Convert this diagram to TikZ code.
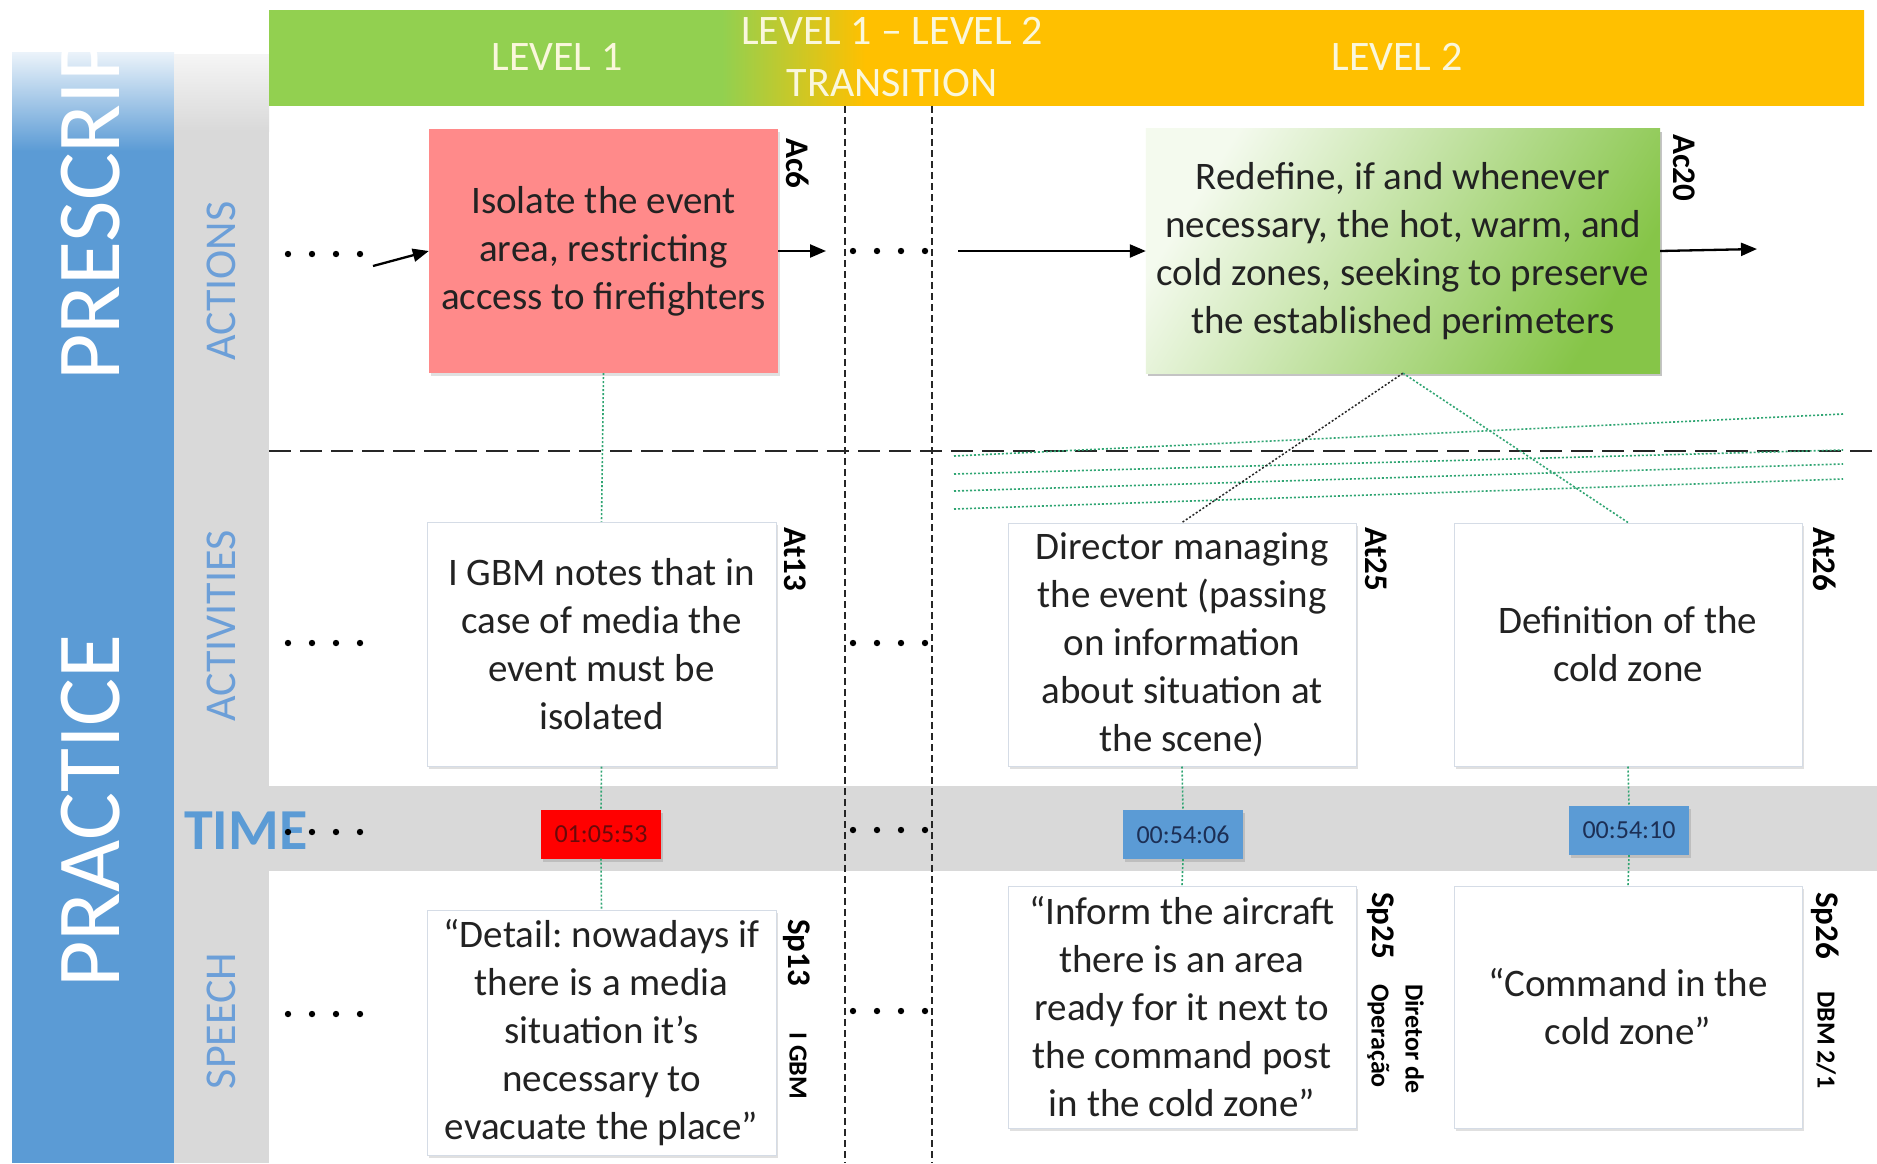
\documentclass[tikz,border=0pt]{standalone}
\usepackage{fontspec}
\setmainfont{Carlito}
\usetikzlibrary{arrows.meta,shadows,calc}
\frenchspacing

\definecolor{presblue}{HTML}{5B9BD5}
\definecolor{colgrey}{HTML}{D9D9D9}
\definecolor{lvgreen}{HTML}{92D050}
\definecolor{lvgold}{HTML}{FFC000}
\definecolor{acred}{HTML}{FF8A8A}
\definecolor{timered}{HTML}{FF0000}
\definecolor{timeblue}{HTML}{5B9BD5}
\definecolor{linkgreen}{HTML}{2FA572}
\definecolor{rowlabel}{HTML}{6C9FD8}
\definecolor{boxline}{HTML}{D5DCE6}
\definecolor{headtext}{HTML}{FAF7DC}
\definecolor{txt}{HTML}{222222}
\definecolor{acgreenlight}{HTML}{F4FAEE}
\definecolor{acgreendark}{HTML}{86C548}
\definecolor{redtext}{HTML}{6A0A0A}
\definecolor{bluetext}{HTML}{1C2F55}

% green to gold header band (the middle 25bp..75bp span the band's width)
\pgfdeclarehorizontalshading{levelbar}{100bp}{color(0bp)=(lvgreen); color(39.2bp)=(lvgreen);
  color(43.7bp)=(lvgold); color(100bp)=(lvgold)}

\newcommand{\fsz}[2]{\fontsize{#1}{#2}\selectfont}

\tikzset{
  boxshadow/.style={drop shadow={shadow xshift=2pt, shadow yshift=-3pt, fill=black, opacity=0.12}},
  cardbox/.style={minimum width=349pt, minimum height=244pt, inner sep=0pt, align=center,
                  text=txt, font=\fsz{39}{48}, boxshadow},
  whitebox/.style={cardbox, fill=white, draw=boxline, line width=1pt},
  timebox/.style={minimum width=120pt, minimum height=49pt, inner sep=0pt, font=\fsz{26}{26}, boxshadow},
  tag/.style={rotate=-90, anchor=mid west, inner sep=0pt, font=\bfseries\fsz{33}{33}, text=black},
  smalltag/.style={tag, font=\bfseries\fsz{26}{26}},
  rowtag/.style={rotate=90, inner sep=0pt, text=rowlabel, font=\fsz{44}{44}},
  bigtag/.style={rotate=90, anchor=west, inner sep=0pt, text=white, font=\fsz{90}{90}},
  headlabel/.style={inner sep=0pt, text=headtext, font=\fsz{42}{52}, align=center},
  arr/.style={line width=2.3pt, -{Triangle[length=16pt, width=13pt]}},
  linkdot/.style={draw=linkgreen, line width=1.6pt, dash pattern=on 2pt off 2pt},
  blackdot/.style={draw=black!85, line width=1.5pt, dash pattern=on 2pt off 2pt},
  hdash/.style={draw=black!85, line width=1.6pt, dash pattern=on 22pt off 9pt},
  vdash/.style={draw=black!85, line width=1.6pt, dash pattern=on 7pt off 4pt},
}

\begin{document}
\begin{tikzpicture}[x=1pt, y=-1pt]
\useasboundingbox (0,0) rectangle (1877,1163);
\fill[white] (0,0) rectangle (1877,1163);

% ---- left column: prescription / practice ----
\fill[presblue] (12,150) rectangle (174,1163);
\shade[top color=presblue!12, bottom color=presblue] (12,52) rectangle (174,151);
\begin{scope}
  \clip (12,52) rectangle (174,1163);
  \node[bigtag] (presc) at (91,381) {PRESCRIPTION};
\end{scope}
\node[bigtag] (pract) at (91,988) {PRACTICE};

% ---- row label column ----
\fill[colgrey] (174,130) rectangle (269,1163);
\shade[top color=colgrey!25, bottom color=colgrey] (174,54) rectangle (269,131);
\node[rowtag] (lblact) at (221,281) {ACTIONS};
\node[rowtag] (lblactv) at (221,626) {ACTIVITIES};
\node[rowtag] (lblsp) at (221,1021) {SPEECH};

% ---- time band ----
\fill[colgrey] (174,786) rectangle (1877,871);
\node[anchor=base west, inner sep=0pt, text=presblue, font=\bfseries\fsz{58}{58}] (timelbl) at (184,849) {TIME};

% ---- level header ----
\shade[shading=levelbar] (269,10) rectangle (1864,105);
\node[headlabel] (lv1) at (557,57) {LEVEL 1};
\node[headlabel] (lvtr) at (892,57) {LEVEL 1 – LEVEL 2\\TRANSITION};
\node[headlabel] (lv2) at (1397,57) {LEVEL 2};

% ---- separators ----
\draw[hdash] (269,451) -- (1877,451);
\draw[vdash] (845,106) -- (845,1163);
\draw[vdash] (932,106) -- (932,1163);

% ---- bundle of activity links ----
\draw[linkdot] (954,456) -- (1843,414);
\draw[linkdot] (954,474) -- (1843,450);
\draw[linkdot] (954,491) -- (1843,464);
\draw[linkdot] (954,509) -- (1843,479);

% ---- ellipsis dots ----
\foreach \yy in {254,643,832,1014}
  \foreach \xx in {288,312,336,360} \fill (\xx,\yy) circle (3.2);
\foreach \yy in {251,643,830,1011}
  \foreach \xx in {853,877,901,925} \fill (\xx,\yy) circle (3.2);

% ---- actions ----
\node[cardbox, fill=acred] (ac6) at (603.5,251) {Isolate the event\\area, restricting\\access to firefighters};
\node[cardbox, minimum width=514pt, boxshadow] (ac20) at (1403,251) {};
\shade[top color=acgreenlight, bottom color=acgreendark, shading angle=58]
  (ac20.north west) rectangle (ac20.south east);
\node[align=center, text=txt, font=\fsz{39}{48}, inner sep=0pt] (ac20txt) at (ac20.center)
  {Redefine, if and whenever\\necessary, the hot, warm, and\\cold zones, seeking to preserve\\the established perimeters};
\node[tag] (tagac6) at (789,138) {Ac6};
\node[tag] (tagac20) at (1676,134) {Ac20};

% ---- activities ----
\node[whitebox] (at13) at (601.5,644) {I GBM notes that in\\case of media the\\event must be\\isolated};
\node[whitebox, minimum width=348pt, minimum height=243pt] (at25) at (1182,644.5)
  {Director managing\\the event (passing\\on information\\about situation at\\the scene)};
\node[whitebox, minimum width=348pt, minimum height=243pt] (at26) at (1628,644.5) {Definition of the\\cold zone};
\node[tag] (tagat13) at (787,527) {At13};
\node[tag] (tagat25) at (1368,527) {At25};
\node[tag] (tagat26) at (1816,527) {At26};

% ---- time stamps ----
\node[timebox, fill=timered, text=redtext] (t1) at (601,834) {01:05:53};
\node[timebox, fill=timeblue, text=bluetext] (t2) at (1183,834.5) {00:54:06};
\node[timebox, fill=timeblue, text=bluetext] (t3) at (1629,830.5) {00:54:10};

% ---- speech ----
\node[whitebox, minimum height=245pt] (sp13) at (601.5,1032.5)
  {“Detail: nowadays if\\there is a media\\situation it’s\\necessary to\\evacuate the place”};
\node[whitebox, minimum width=348pt, minimum height=242pt] (sp25) at (1182,1007)
  {“Inform the aircraft\\there is an area\\ready for it next to\\the command post\\in the cold zone”};
\node[whitebox, minimum width=348pt, minimum height=242pt] (sp26) at (1628,1007) {“Command in the\\cold zone”};
\node[tag] (tagsp13) at (791,919) {Sp13};
\node[smalltag] (tagigbm) at (792,1032) {I GBM};
\node[tag] (tagsp25) at (1375,892) {Sp25};
\node[smalltag] (tagdir) at (1408,984) {Diretor de};
\node[smalltag] (tagop) at (1374,984) {Operação};
\node[tag] (tagsp26) at (1819,892) {Sp26};
\node[smalltag] (tagdbm) at (1820,991) {DBM 2/1};

% ---- flow arrows ----
\coordinate (inA) at (373,266);
\coordinate (outA) at (826,251);
\coordinate (inB) at (958,251);
\coordinate (outB) at (1757,249);
\draw[arr] (inA) -- (ac6.west);
\draw[arr] (ac6.east) -- (outA);
\draw[arr] (inB) -- (ac20.west);
\draw[arr] (ac20.east) -- (outB);

% ---- vertical trace links ----
\draw[linkdot] (ac6.south) -- (at13.north);
\draw[linkdot] (at13.south) -- (t1.north);
\draw[linkdot] (t1.south) -- (sp13.north);
\draw[linkdot] (at25.south) -- (t2.north);
\draw[linkdot] (t2.south) -- (sp25.north);
\draw[linkdot] (at26.south) -- (t3.north);
\draw[linkdot] (t3.south) -- (sp26.north);
\draw[blackdot] (ac20.south) -- (at25.north);
\draw[linkdot] (ac20.south) -- (at26.north);
\end{tikzpicture}
\end{document}
